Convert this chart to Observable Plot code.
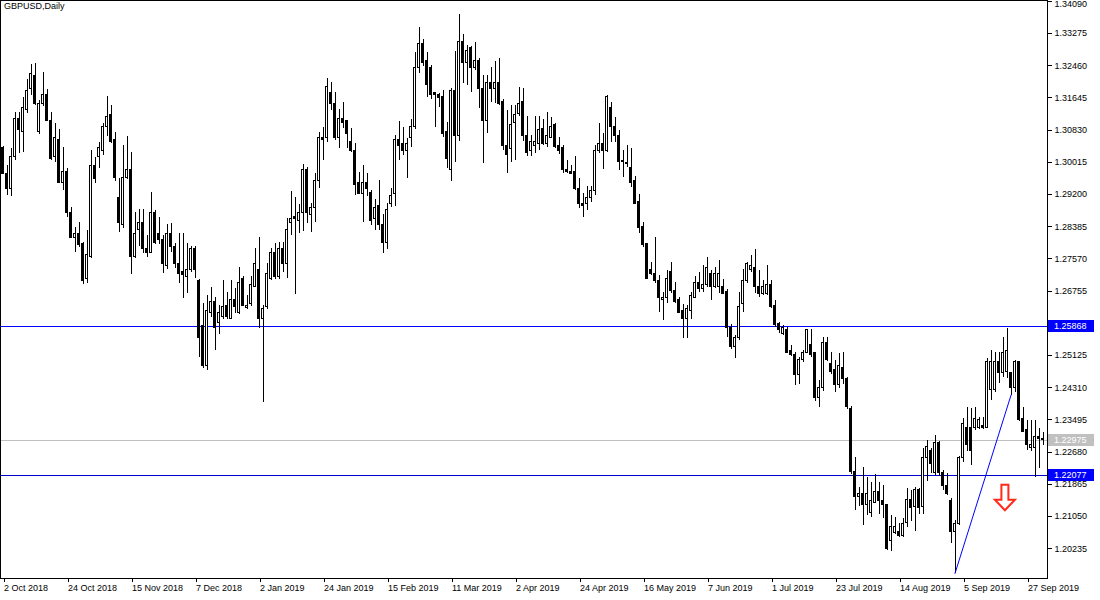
<!DOCTYPE html>
<html><head><meta charset="utf-8">
<script src="https://cdn.jsdelivr.net/npm/d3@7"></script>
<script src="https://cdn.jsdelivr.net/npm/@observablehq/plot@0.6"></script>
<style>
html,body{margin:0;padding:0;background:#fff;}
#chart{position:relative;width:1100px;height:600px;overflow:hidden;}
#title{position:absolute;left:4px;top:1px;font:9px "Liberation Sans",Arial,sans-serif;color:#000;}
</style></head><body>
<div id="chart"><div id="title">GBPUSD,Daily</div></div>
<script>
const opens=[1.3037,1.2973,1.2935,1.3014,1.3110,1.3077,1.3135,1.3186,1.3221,1.3077,1.3148,1.3171,1.3107,1.3014,1.3059,1.2950,1.2978,1.2874,1.2811,1.2821,1.2794,1.2705,1.2763,1.2991,1.3016,1.3029,1.3092,1.3120,1.3057,1.2912,1.2844,1.2963,1.2983,1.2761,1.2829,1.2847,1.2783,1.2773,1.2872,1.2819,1.2804,1.2738,1.2821,1.2786,1.2743,1.2723,1.2710,1.2730,1.2781,1.2702,1.2586,1.2485,1.2621,1.2649,1.2596,1.2609,1.2639,1.2606,1.2652,1.2619,1.2705,1.2632,1.2642,1.2687,1.2728,1.2604,1.2636,1.2705,1.2771,1.2710,1.2783,1.2745,1.2847,1.2864,1.2852,1.2872,1.2981,1.2869,1.2887,1.2953,1.3064,1.3062,1.3176,1.3150,1.3062,1.3110,1.3105,1.3054,1.3031,1.2948,1.2922,1.2948,1.2925,1.2857,1.2892,1.2842,1.2796,1.2897,1.2920,1.3059,1.3047,1.3031,1.3064,1.3090,1.3241,1.3302,1.3257,1.3239,1.3176,1.3173,1.3166,1.3077,1.2981,1.3183,1.3067,1.3307,1.3254,1.3290,1.3239,1.3257,1.3188,1.3105,1.3203,1.3186,1.3201,1.3155,1.3042,1.3034,1.3100,1.3125,1.3153,1.3067,1.3029,1.3044,1.3047,1.3085,1.3047,1.3064,1.3095,1.3044,1.3037,1.2981,1.2978,1.2976,1.2933,1.2895,1.2895,1.2912,1.2928,1.3029,1.3047,1.3029,1.3140,1.3090,1.3069,1.3001,1.2999,1.2988,1.2955,1.2900,1.2839,1.2794,1.2728,1.2720,1.2702,1.2652,1.2657,1.2723,1.2677,1.2652,1.2624,1.2606,1.2626,1.2659,1.2697,1.2680,1.2690,1.2720,1.2685,1.2685,1.2685,1.2672,1.2583,1.2533,1.2556,1.2642,1.2700,1.2730,1.2735,1.2685,1.2669,1.2669,1.2692,1.2639,1.2591,1.2568,1.2578,1.2523,1.2513,1.2462,1.2500,1.2520,1.2540,1.2518,1.2406,1.2429,1.2545,1.2490,1.2477,1.2439,1.2482,1.2454,1.2376,1.2217,1.2154,1.2161,1.2133,1.2115,1.2140,1.2168,1.2143,1.2133,1.2042,1.2062,1.2065,1.2055,1.2088,1.2148,1.2128,1.2171,1.2130,1.2252,1.2270,1.2214,1.2290,1.2214,1.2181,1.2143,1.2067,1.2085,1.2254,1.2330,1.2330,1.2328,1.2328,1.2333,1.2330,1.2424,1.2424,1.2495,1.2467,1.2470,1.2467,1.2429,1.2495,1.2351,1.2323,1.2278,1.2278,1.2305,1.2300];
const highs=[1.3042,1.2993,1.3037,1.3128,1.3128,1.3166,1.3211,1.3249,1.3252,1.3158,1.3229,1.3186,1.3128,1.3100,1.3085,1.3039,1.2986,1.2887,1.2836,1.2849,1.2799,1.2829,1.3031,1.3014,1.3052,1.3100,1.3168,1.3145,1.3077,1.2960,1.3044,1.3067,1.3026,1.2874,1.2882,1.2882,1.2816,1.2925,1.2880,1.2862,1.2816,1.2844,1.2847,1.2796,1.2821,1.2821,1.2796,1.2788,1.2788,1.2705,1.2644,1.2664,1.2685,1.2659,1.2639,1.2702,1.2672,1.2702,1.2682,1.2735,1.2712,1.2664,1.2712,1.2783,1.2811,1.2639,1.2745,1.2783,1.2796,1.2799,1.2799,1.2859,1.2928,1.2912,1.2895,1.2996,1.2988,1.2897,1.2973,1.3077,1.3090,1.3214,1.3203,1.3178,1.3135,1.3153,1.3107,1.3087,1.3049,1.2976,1.2993,1.2973,1.2930,1.2907,1.2955,1.2869,1.2897,1.2935,1.3069,1.3105,1.3090,1.3062,1.3110,1.3279,1.3343,1.3312,1.3279,1.3246,1.3178,1.3176,1.3183,1.3102,1.3188,1.3282,1.3376,1.3325,1.3297,1.3295,1.3305,1.3264,1.3221,1.3221,1.3241,1.3257,1.3264,1.3160,1.3133,1.3145,1.3145,1.3191,1.3188,1.3117,1.3069,1.3117,1.3117,1.3110,1.3128,1.3115,1.3100,1.3064,1.3044,1.3006,1.2993,1.3016,1.2960,1.2922,1.2940,1.2940,1.3044,1.3100,1.3074,1.3171,1.3153,1.3115,1.3082,1.3031,1.3044,1.3037,1.2965,1.2920,1.2849,1.2796,1.2748,1.2811,1.2715,1.2672,1.2728,1.2748,1.2697,1.2659,1.2642,1.2639,1.2672,1.2712,1.2723,1.2740,1.2761,1.2728,1.2735,1.2753,1.2705,1.2680,1.2591,1.2563,1.2672,1.2730,1.2748,1.2766,1.2781,1.2728,1.2702,1.2740,1.2702,1.2652,1.2596,1.2589,1.2583,1.2538,1.2520,1.2507,1.2525,1.2578,1.2578,1.2520,1.2449,1.2558,1.2558,1.2520,1.2500,1.2518,1.2520,1.2457,1.2384,1.2254,1.2179,1.2229,1.2204,1.2191,1.2212,1.2191,1.2183,1.2135,1.2108,1.2103,1.2088,1.2100,1.2176,1.2171,1.2179,1.2176,1.2277,1.2297,1.2277,1.2310,1.2295,1.2222,1.2214,1.2151,1.2095,1.2257,1.2353,1.2381,1.2378,1.2381,1.2356,1.2356,1.2505,1.2525,1.2520,1.2520,1.2558,1.2581,1.2470,1.2500,1.2498,1.2381,1.2348,1.2348,1.2348,1.2328,1.2318];
const lows=[1.2971,1.2917,1.2915,1.3006,1.3024,1.3026,1.3125,1.3171,1.3145,1.3072,1.3143,1.3105,1.3006,1.3001,1.2948,1.2930,1.2862,1.2809,1.2773,1.2786,1.2692,1.2695,1.2758,1.2948,1.2986,1.3019,1.3067,1.3049,1.2953,1.2824,1.2834,1.2958,1.2718,1.2758,1.2788,1.2771,1.2761,1.2771,1.2794,1.2794,1.2720,1.2730,1.2773,1.2733,1.2695,1.2657,1.2669,1.2723,1.2707,1.2507,1.2480,1.2475,1.2609,1.2525,1.2566,1.2604,1.2604,1.2604,1.2619,1.2616,1.2636,1.2629,1.2636,1.2685,1.2581,1.2394,1.2629,1.2702,1.2705,1.2705,1.2723,1.2707,1.2816,1.2667,1.2821,1.2826,1.2847,1.2824,1.2849,1.2935,1.3006,1.3052,1.3133,1.3057,1.3037,1.3087,1.3037,1.3026,1.2917,1.2920,1.2849,1.2915,1.2842,1.2829,1.2829,1.2771,1.2781,1.2887,1.2890,1.3006,1.3019,1.2960,1.3039,1.3085,1.3226,1.3244,1.3166,1.3160,1.3090,1.3140,1.3064,1.2986,1.2953,1.3001,1.3054,1.3201,1.3196,1.3178,1.3234,1.3138,1.2999,1.3074,1.3153,1.3150,1.3145,1.3031,1.2973,1.3001,1.3006,1.3117,1.3054,1.3016,1.3016,1.3024,1.3031,1.3044,1.3039,1.3062,1.3037,1.3021,1.2973,1.2973,1.2971,1.2930,1.2885,1.2862,1.2880,1.2900,1.2917,1.3024,1.2983,1.3026,1.3052,1.3052,1.2981,1.2963,1.2988,1.2938,1.2895,1.2821,1.2786,1.2705,1.2715,1.2695,1.2621,1.2601,1.2644,1.2669,1.2644,1.2619,1.2556,1.2556,1.2604,1.2659,1.2672,1.2672,1.2685,1.2652,1.2682,1.2669,1.2669,1.2558,1.2528,1.2505,1.2550,1.2621,1.2695,1.2723,1.2669,1.2659,1.2664,1.2664,1.2632,1.2583,1.2568,1.2563,1.2518,1.2510,1.2437,1.2439,1.2495,1.2518,1.2507,1.2396,1.2381,1.2421,1.2497,1.2465,1.2419,1.2429,1.2439,1.2376,1.2212,1.2120,1.2130,1.2082,1.2108,1.2103,1.2138,1.2110,1.2100,1.2020,1.2016,1.2060,1.2052,1.2052,1.2078,1.2092,1.2067,1.2110,1.2110,1.2194,1.2214,1.2209,1.2209,1.2171,1.2158,1.2037,1.1961,1.2082,1.2242,1.2270,1.2234,1.2323,1.2325,1.2325,1.2328,1.2399,1.2419,1.2442,1.2457,1.2454,1.2411,1.2419,1.2346,1.2318,1.2272,1.2270,1.2204,1.2227,1.2285];
const closes=[1.2973,1.2933,1.3014,1.3110,1.3082,1.3138,1.3183,1.3226,1.3150,1.3148,1.3173,1.3107,1.3011,1.3062,1.2950,1.2978,1.2874,1.2811,1.2821,1.2791,1.2702,1.2766,1.2991,1.2960,1.3037,1.3092,1.3117,1.3054,1.2963,1.2847,1.2963,1.2983,1.2763,1.2819,1.2847,1.2783,1.2771,1.2872,1.2796,1.2806,1.2743,1.2821,1.2786,1.2743,1.2720,1.2715,1.2730,1.2781,1.2730,1.2558,1.2485,1.2626,1.2649,1.2583,1.2619,1.2636,1.2609,1.2654,1.2634,1.2697,1.2639,1.2639,1.2692,1.2743,1.2604,1.2629,1.2720,1.2773,1.2710,1.2783,1.2745,1.2831,1.2857,1.2857,1.2872,1.2981,1.2872,1.2887,1.2953,1.3064,1.3057,1.3193,1.3150,1.3062,1.3112,1.3102,1.3074,1.3031,1.2945,1.2922,1.2948,1.2935,1.2852,1.2887,1.2842,1.2796,1.2882,1.2917,1.3057,1.3044,1.3031,1.3049,1.3092,1.3241,1.3300,1.3254,1.3198,1.3173,1.3171,1.3163,1.3074,1.3011,1.3183,1.3067,1.3307,1.3254,1.3284,1.3239,1.3257,1.3188,1.3105,1.3203,1.3186,1.3201,1.3150,1.3042,1.3021,1.3097,1.3122,1.3150,1.3067,1.3026,1.3052,1.3054,1.3082,1.3047,1.3067,1.3092,1.3039,1.3031,1.2983,1.2976,1.2973,1.2933,1.2895,1.2892,1.2910,1.2928,1.3029,1.3047,1.3029,1.3168,1.3090,1.3069,1.3001,1.3006,1.2996,1.2950,1.2897,1.2836,1.2791,1.2707,1.2720,1.2700,1.2659,1.2659,1.2707,1.2675,1.2649,1.2621,1.2604,1.2629,1.2662,1.2695,1.2680,1.2692,1.2735,1.2685,1.2720,1.2720,1.2669,1.2583,1.2533,1.2556,1.2636,1.2700,1.2743,1.2738,1.2685,1.2669,1.2687,1.2692,1.2636,1.2589,1.2578,1.2581,1.2520,1.2513,1.2462,1.2502,1.2520,1.2576,1.2515,1.2406,1.2429,1.2545,1.2502,1.2472,1.2439,1.2485,1.2454,1.2381,1.2217,1.2154,1.2161,1.2133,1.2161,1.2145,1.2168,1.2145,1.2135,1.2024,1.2078,1.2078,1.2055,1.2085,1.2146,1.2126,1.2171,1.2126,1.2252,1.2280,1.2239,1.2290,1.2214,1.2181,1.2163,1.2067,1.2085,1.2254,1.2338,1.2285,1.2272,1.2353,1.2350,1.2328,1.2495,1.2495,1.2495,1.2467,1.2520,1.2525,1.2429,1.2495,1.2348,1.2320,1.2285,1.2285,1.2305,1.2300,1.2298];

const dateLabels=["2 Oct 2018","24 Oct 2018","15 Nov 2018","7 Dec 2018","2 Jan 2019","24 Jan 2019","15 Feb 2019","11 Mar 2019","2 Apr 2019","24 Apr 2019","16 May 2019","7 Jun 2019","1 Jul 2019","23 Jul 2019","14 Aug 2019","5 Sep 2019","27 Sep 2019"];
const dateLabelBars=[0,16,32,48,64,80,96,112,128,144,160,176,192,208,224,240,256];
const priceTicks=[1.34090,1.33275,1.32460,1.31645,1.30830,1.30015,1.29200,1.28385,1.27570,1.26755,1.25940,1.25125,1.24310,1.23495,1.22680,1.21865,1.21050,1.20235];
const hiddenTick=1.25940;
const resistanceLevel=1.25868;
const bidLevel=1.22975;
const supportLevel=1.22077;
const trendBars=[238,252];
const trendPrices=[1.1961,1.2412];
const arrowBar=250.6;
const arrowPrice=1.2184;

const candles=opens.map((o,i)=>({i,o,h:highs[i],l:lows[i],c:closes[i],up:closes[i]>=o}));
const trend=trendBars.map((b,k)=>({bar:b,price:trendPrices[k]}));
const crisp={shapeRendering:"crispEdges"};

const chart=Plot.plot({
  width:1100,height:600,marginLeft:0,marginRight:53,marginTop:0,marginBottom:22,
  x:{type:"linear",domain:[-0.625,261.125],axis:null},
  y:{type:"linear",domain:[1.19481,1.34110],axis:null},
  style:{background:"#fff",fontFamily:"'Liberation Sans',Arial,sans-serif",fontSize:"9px",color:"#000",overflow:"visible"},
  marks:[
    Plot.ruleY([resistanceLevel],{stroke:"#0000ff",...crisp}),
    Plot.ruleY([bidLevel],{stroke:"#c0c0c0",...crisp}),
    Plot.ruleY([supportLevel],{stroke:"#0000c8",...crisp}),
    Plot.ruleX(candles,{x:"i",y1:"l",y2:"h",stroke:"#000",...crisp}),
    Plot.rect(candles,{x1:d=>d.i-0.25,x2:d=>d.i+0.25,y1:"o",y2:"c",fill:d=>d.up?"#fff":"#000",stroke:"#000",...crisp}),
    Plot.ruleY(candles.filter(d=>Math.abs(d.o-d.c)<0.00015),{y:"c",x1:d=>d.i-0.3,x2:d=>d.i+0.3,stroke:"#000",...crisp}),
    Plot.line(trend,{x:"bar",y:"price",stroke:"#0000ff",strokeWidth:1}),
    Plot.frame({stroke:"#000",...crisp}),
    Plot.axisY({anchor:"right",ticks:priceTicks,tickSize:4,tickPadding:3,tickFormat:d=>(d===priceTicks[0]||d===hiddenTick)?"":d.toFixed(5),...crisp}),
    Plot.text([priceTicks[0]],{y:d=>d,frameAnchor:"right",dx:7,dy:3,textAnchor:"start",text:d=>d.toFixed(5)}),
    Plot.axisX({ticks:dateLabelBars,tickSize:4,tickPadding:2,textAnchor:"start",dx:1,tickFormat:d=>dateLabels[dateLabelBars.indexOf(d)],...crisp})
  ]
});
document.getElementById("chart").appendChild(chart);

// price tags on the right axis and the arrow annotation, placed through Plot's own scales
const sx=chart.scale("x"), sy=chart.scale("y");
const svg=d3.select(chart);
const axisX=1047;
function tag(value,bg,fg){
  const y=Math.round(sy.apply(value));
  svg.append("rect").attr("x",axisX+1).attr("y",y-6).attr("width",46).attr("height",12).attr("fill",bg);
  svg.append("text").attr("x",axisX+7).attr("y",y).attr("dy","0.34em").attr("text-anchor","start")
    .attr("fill",fg).attr("font-size",9).text(value.toFixed(5));
}
tag(resistanceLevel,"#0000ff","#fff");
tag(bidLevel,"#c0c0c0","#fff");
tag(supportLevel,"#0000ff","#fff");
const ax=sx.apply(arrowBar), ay=sy.apply(arrowPrice);
svg.append("path").attr("transform",`translate(${ax},${ay})`)
  .attr("d","M-3.5,0L3.5,0L3.5,15L10,15L0,25.5L-10,15L-3.5,15Z")
  .attr("fill","#fff").attr("stroke","#ff2a1a").attr("stroke-width",2).attr("stroke-linejoin","miter");
</script>
</body></html>
